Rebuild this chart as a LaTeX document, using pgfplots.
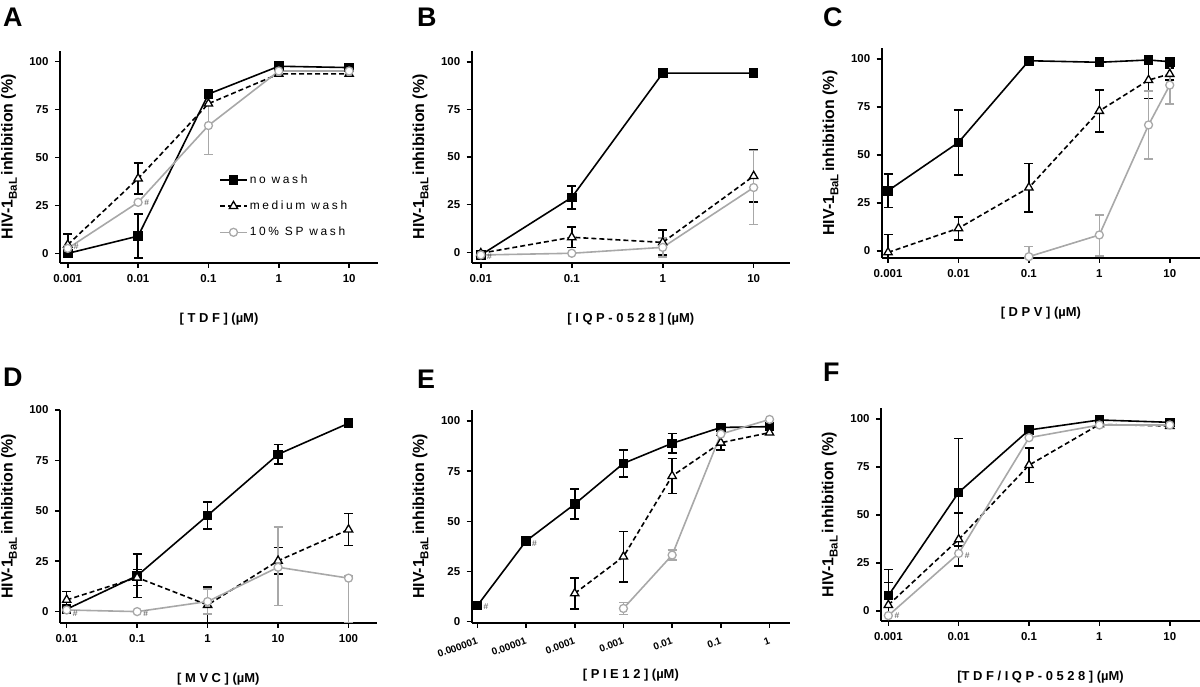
\documentclass[border=0pt]{standalone}
\usepackage{fontspec}
\setmainfont{Liberation Sans}
\usepackage{pgfplots}
\pgfplotsset{compat=1.18}
\definecolor{spgray}{RGB}{168,168,168}
\definecolor{hashgray}{RGB}{80,80,80}
\pgfplotsset{
 every axis/.append style={
  scale only axis,
  xmode=log,
  axis lines=left,
  axis line style={-, line width=2.2bp},
  tick style={line width=1.6bp, black},
  tick align=outside,
  major tick length=5bp,
  xminorticks=false,
  ytick={0,25,50,75,100},
  yticklabels={0,25,50,75,100},
  tick label style={font=\bfseries\fontsize{11.5}{13}\selectfont},
  xticklabel style={yshift=-3bp},
  yticklabel style={xshift=-3bp},
  ylabel={HIV-1\raisebox{-0.5ex}{\fontsize{11.5}{12}\selectfont BaL}\,inhibition (\%)},
  ylabel style={font=\bfseries\fontsize{16}{17}\selectfont, at={(axis description cs:-0.135,0.5)}, anchor=south, inner sep=0pt},
  xlabel style={font=\bfseries\fontsize{13}{15}\selectfont, at={(axis description cs:0.5,-0.235)}, anchor=north, inner sep=0pt},
  clip=false,
 },
 nowash/.style={black, line width=1.6bp, mark=square*, mark size=4bp, mark options={solid}},
 medium/.style={black, line width=1.6bp, dash pattern=on 5bp off 3bp, mark=triangle*, mark size=4.8bp, mark options={solid, fill=white, line width=1.3bp}},
 spw/.style={spgray, line width=1.6bp, mark=*, mark size=4bp, mark options={solid, fill=white, line width=1.3bp}},
 errb/.style={forget plot, only marks, mark=none, #1,
   error bars/y dir=both, error bars/y explicit,
   error bars/error bar style={line width=1.6bp, solid, #1},
   error bars/error mark options={rotate=90, #1, line width=1.6bp, mark size=4.5bp, solid}},
}
\tikzset{hashnode/.style={font=\fontsize{8.5}{8.5}\selectfont, text=hashgray, anchor=west, inner sep=0pt, xshift=6bp}}
\begin{document}
\begin{tikzpicture}[x=1bp, y=1bp]
\path[use as bounding box] (0,0) rectangle (1200,687);
\tikzset{plab/.style={font=\bfseries\fontsize{27}{27}\selectfont, anchor=north west, inner sep=0pt}}
\node[plab] at (3,679) {A};
\node[plab] at (417,679) {B};
\node[plab] at (823,679) {C};
\node[plab] at (3,319) {D};
\node[plab] at (417,317) {E};
\node[plab] at (823,324) {F};

% ---------------- A
\begin{axis}[at={(60bp,424bp)}, anchor=south west, width=318bp, height=212.3bp,
  xmin=7.76e-4, xmax=25.7, ymin=-5, ymax=105.6,
  xtick={0.001,0.01,0.1,1,10}, xticklabels={0.001,0.01,0.1,1,10},
  xlabel={[ T D F ] (µM)},
  legend style={at={(axis description cs:0.5,0.425)}, anchor=north west, draw=none, fill=none, inner sep=0pt,
    font=\fontsize{12}{14}\selectfont\addfontfeatures{LetterSpace=22}, row sep=12bp},
  legend cell align=left,
  legend image code/.code={\draw[mark repeat=2,mark phase=2,#1] plot coordinates {(0bp,0bp) (13.5bp,0bp) (27bp,0bp)};},
  ]
\addplot[errb=black] table[x=x, y=y, y error plus=ep, y error minus=em] {
x y ep em
0.01 9 11.5 11.5
};
\addplot[errb=black] table[x=x, y=y, y error plus=ep, y error minus=em] {
x y ep em
0.001 4.5 5.5 5.5
0.01 39 8 8
};
\addplot[errb=spgray] table[x=x, y=y, y error plus=ep, y error minus=em] {
x y ep em
0.1 66.6 15 15
};
\addplot[nowash] table {
x y
0.001 0
0.01 9
0.1 83
1 97.5
10 96.8
};
\addlegendentry{no wash}
\addplot[medium] table {
x y
0.001 4.5
0.01 39
0.1 78
1 93.5
10 93.5
};
\addlegendentry{medium wash}
\addplot[spw] table {
x y
0.001 2.6
0.01 26.6
0.1 66.6
1 95
10 95
};
\addlegendentry{10\% SP wash}
\node[hashnode] at (axis cs:0.001,3.5) {\#};
\node[hashnode] at (axis cs:0.01,26.6) {\#};
\end{axis}

% ---------------- B
\begin{axis}[at={(471.7bp,424bp)}, anchor=south west, width=318.3bp, height=212.3bp,
  xmin=7.94e-3, xmax=25.1, ymin=-5.6, ymax=105.8,
  xtick={0.01,0.1,1,10}, xticklabels={0.01,0.1,1,10},
  xlabel={[ I Q P - 0 5 2 8 ] (µM)},
  ]
\addplot[errb=black] table[x=x, y=y, y error plus=ep, y error minus=em] {
x y ep em
0.1 28.8 6 6
};
\addplot[errb=black] table[x=x, y=y, y error plus=ep, y error minus=em] {
x y ep em
0.1 7.9 5.3 5.3
1 5.2 6.5 6.5
10 40 13.7 13.7
};
\addplot[errb=spgray] table[x=x, y=y, y error plus=ep, y error minus=em] {
x y ep em
1 2.6 5 5
10 34 19.5 19.5
};
\addplot[nowash] table {
x y
0.01 -1.4
0.1 28.8
1 94
10 94
};
\addplot[medium] table {
x y
0.01 -0.5
0.1 7.9
1 5.2
10 40
};
\addplot[spw] table {
x y
0.01 -1.4
0.1 -0.5
1 2.6
10 34
};
\node[hashnode] at (axis cs:0.01,-2.3) {\#};
\end{axis}

% ---------------- C
\begin{axis}[at={(881.7bp,429bp)}, anchor=south west, width=318.3bp, height=209.7bp,
  xmin=8.13e-4, xmax=26.9, ymin=-3.8, ymax=105.6,
  xtick={0.001,0.01,0.1,1,10}, xticklabels={0.001,0.01,0.1,1,10},
  xlabel={[ D P V ] (µM)},
  ]
\addplot[errb=black] table[x=x, y=y, y error plus=ep, y error minus=em] {
x y ep em
0.001 31.3 8.7 8.7
0.01 56.5 17 17
};
\addplot[errb=black] table[x=x, y=y, y error plus=ep, y error minus=em] {
x y ep em
0.001 -0.9 9.4 2.9
0.01 11.7 6 6
0.1 32.9 12.6 12.6
1 72.9 11 11
5 89 9.5 9.5
10 92.2 3 3
};
\addplot[errb=spgray] table[x=x, y=y, y error plus=ep, y error minus=em] {
x y ep em
0.1 -3.1 5.2 0.7
1 8.2 10.4 11
5 65.6 17.7 17.8
10 86.4 10 10
};
\addplot[nowash] table {
x y
0.001 31.3
0.01 56.5
0.1 99.1
1 98.3
5 99.5
10 98.6
};
\addplot[medium] table {
x y
0.001 -0.9
0.01 11.7
0.1 32.9
1 72.9
5 89
10 92.2
};
\addplot[spw] table {
x y
0.1 -3.1
1 8.2
5 65.6
10 86.4
};
\end{axis}

% ---------------- D
\begin{axis}[at={(60bp,64.3bp)}, anchor=south west, width=316.7bp, height=212.7bp,
  xmin=8.04e-3, xmax=251, ymin=-5.5, ymax=100,
  xtick={0.01,0.1,1,10,100}, xticklabels={0.01,0.1,1,10,100},
  xlabel={[ M V C ] (µM)},
  ]
\addplot[errb=black] table[x=x, y=y, y error plus=ep, y error minus=em] {
x y ep em
0.1 17.8 10.8 10.8
1 47.7 6.6 6.6
10 78 4.8 4.8
};
\addplot[errb=black] table[x=x, y=y, y error plus=ep, y error minus=em] {
x y ep em
0.01 5.8 4.2 4.2
0.1 16.9 4 4
1 3.3 9 8.8
10 25.2 6.5 6.5
100 40.7 8 8
};
\addplot[errb=spgray] table[x=x, y=y, y error plus=ep, y error minus=em] {
x y ep em
1 5 6.3 6.3
10 22 20 19
100 16.6 1 22
};
\addplot[nowash] table {
x y
0.01 1.2
0.1 17.8
1 47.7
10 78
100 93.4
};
\addplot[medium] table {
x y
0.01 5.8
0.1 16.9
1 3.3
10 25.2
100 40.7
};
\addplot[spw] table {
x y
0.01 0.8
0.1 0
1 5
10 22
100 16.6
};
\node[hashnode] at (axis cs:0.01,-0.8) {\#};
\node[hashnode] at (axis cs:0.1,-1.2) {\#};
\end{axis}

% ---------------- E
\begin{axis}[at={(471.7bp,64.3bp)}, anchor=south west, width=318.3bp, height=212.7bp,
  xmin=7.67e-7, xmax=2.63, ymin=-0.5, ymax=105.5,
  xtick={0.000001,0.00001,0.0001,0.001,0.01,0.1,1},
  xticklabels={0.000001,0.00001,0.0001,0.001,0.01,0.1,1},
  xticklabel style={rotate=20, anchor=north east, yshift=-2bp, font=\bfseries\fontsize{10}{11}\selectfont},
  xlabel={[ P I E 1 2 ] (µM)},
  xlabel style={at={(axis description cs:0.5,-0.215)}},
  ]
\addplot[errb=black] table[x=x, y=y, y error plus=ep, y error minus=em] {
x y ep em
0.0001 58.6 7.5 7.5
0.001 78.9 6.8 6.8
0.01 88.9 4.8 4.8
};
\addplot[errb=black] table[x=x, y=y, y error plus=ep, y error minus=em] {
x y ep em
0.0001 14.1 7.7 7.7
0.001 32.4 12.5 12.5
0.01 72.6 8.7 8.7
0.1 89.2 3.5 3.5
};
\addplot[errb=spgray] table[x=x, y=y, y error plus=ep, y error minus=em] {
x y ep em
0.001 6.6 3 3
0.01 33.2 2.5 2.5
};
\addplot[nowash] table {
x y
0.000001 8
0.00001 40.2
0.0001 58.6
0.001 78.9
0.01 88.9
0.1 96.8
1 97.2
};
\addplot[medium] table {
x y
0.0001 14.1
0.001 32.4
0.01 72.6
0.1 89.2
1 94.2
};
\addplot[spw] table {
x y
0.001 6.6
0.01 33.2
0.1 93.5
1 100.8
};
\node[hashnode] at (axis cs:0.000001,7.5) {\#};
\node[hashnode] at (axis cs:0.00001,39) {\#};
\end{axis}

% ---------------- F
\begin{axis}[at={(881bp,66bp)}, anchor=south west, width=319bp, height=212.7bp,
  xmin=7.87e-4, xmax=26.9, ymin=-5.2, ymax=105.6,
  xtick={0.001,0.01,0.1,1,10}, xticklabels={0.001,0.01,0.1,1,10},
  xlabel={[T D F / I Q P - 0 5 2 8 ] (µM)},
  ]
\addplot[errb=black] table[x=x, y=y, y error plus=ep, y error minus=em] {
x y ep em
0.001 8 13.7 13
0.01 61.8 28 28
};
\addplot[errb=black] table[x=x, y=y, y error plus=ep, y error minus=em] {
x y ep em
0.001 3.1 11.7 8
0.01 37.3 13.8 13.8
0.1 76 9 9
};
\addplot[nowash] table {
x y
0.001 8
0.01 61.8
0.1 94.3
1 99.5
10 98.3
};
\addplot[medium] table {
x y
0.001 3.1
0.01 37.3
0.1 76
1 97.2
10 96.4
};
\addplot[spw] table {
x y
0.001 -2.4
0.01 30
0.1 90.3
1 96.9
10 96.9
};
\node[hashnode] at (axis cs:0.001,-2.6) {\#};
\node[hashnode] at (axis cs:0.01,29) {\#};
\end{axis}
\end{tikzpicture}
\end{document}
